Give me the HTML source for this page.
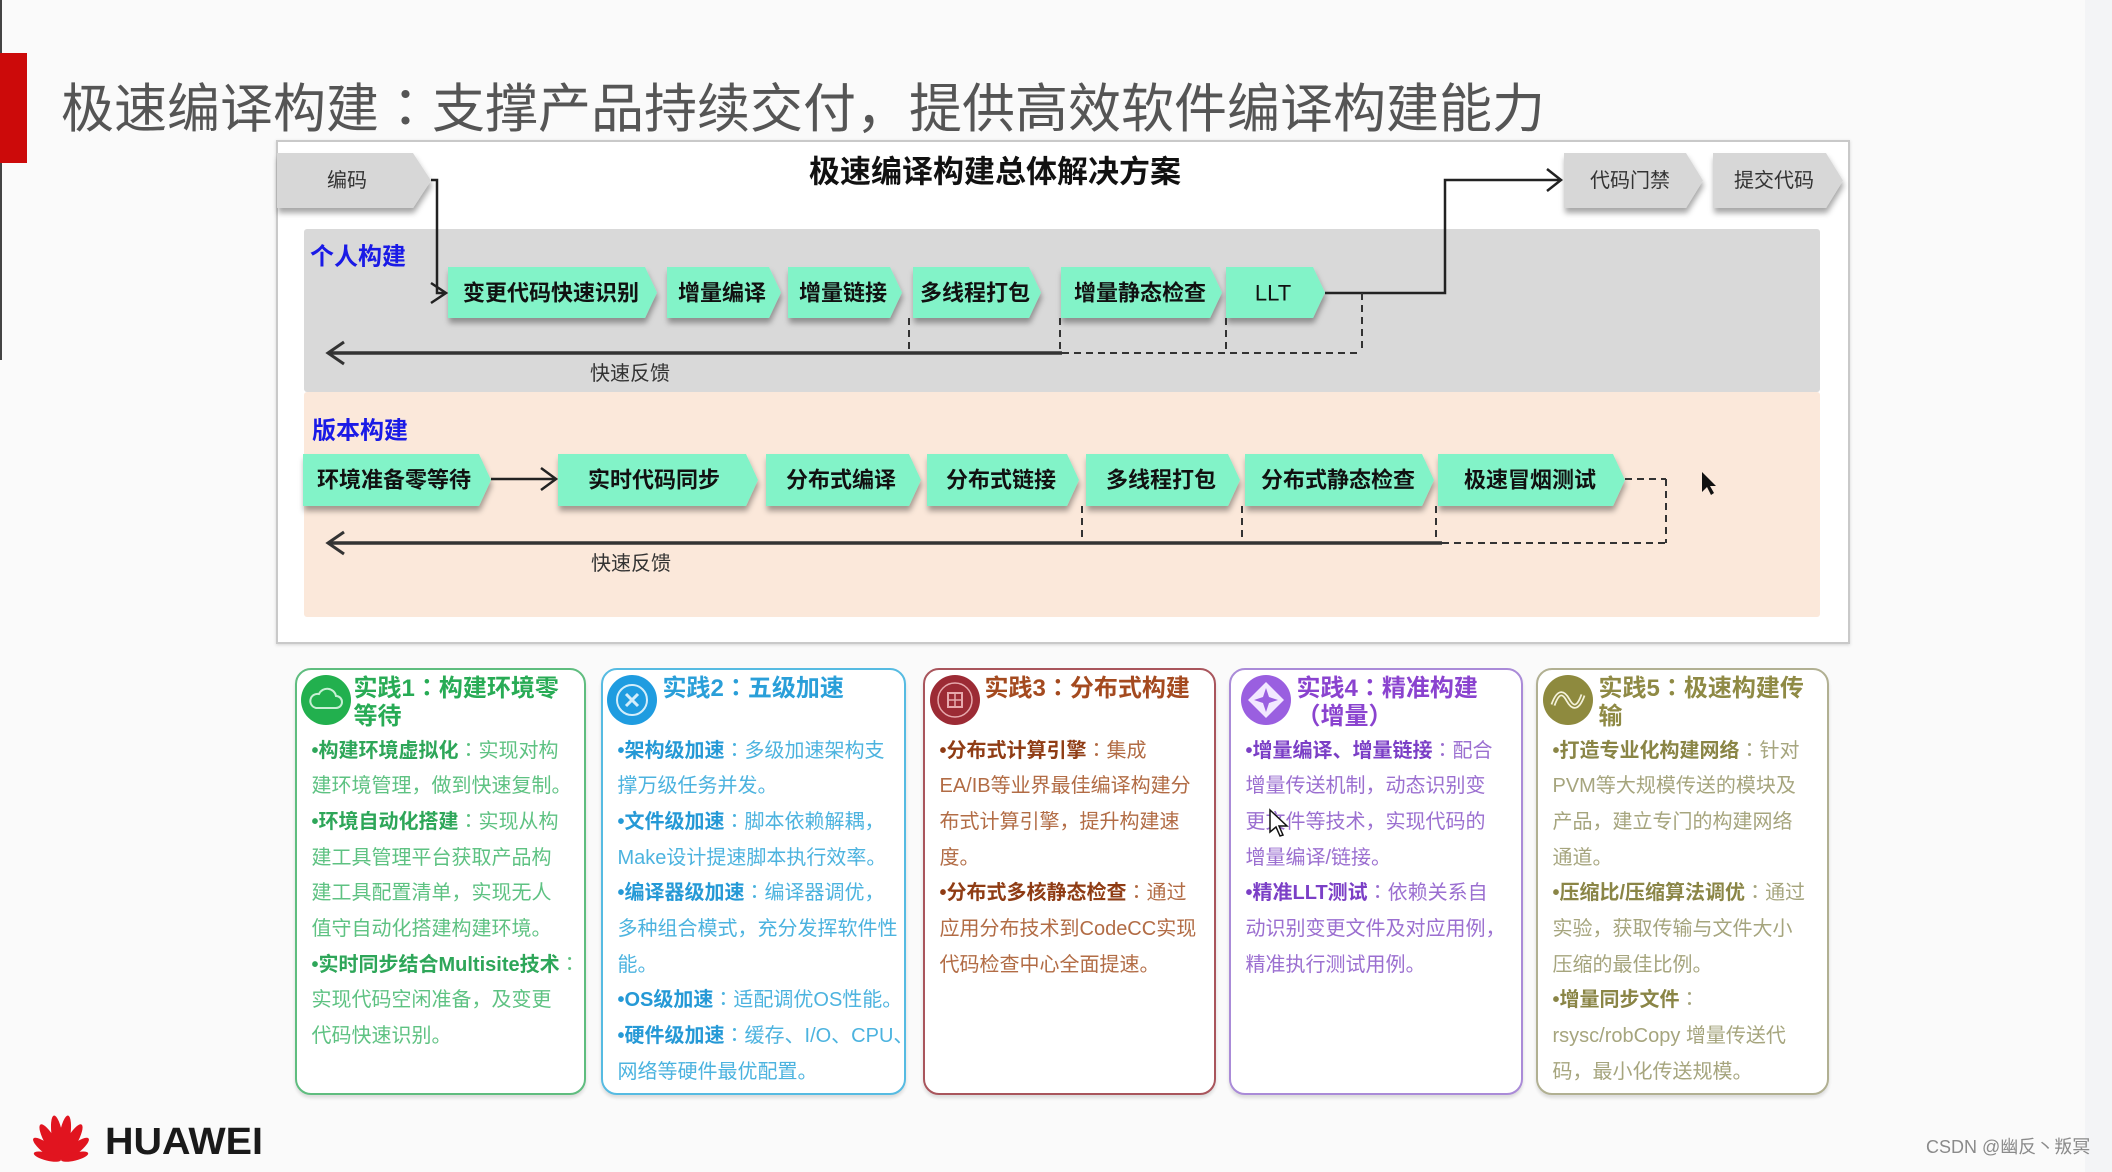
<!DOCTYPE html>
<html><head><meta charset="utf-8">
<style>
html,body{margin:0;padding:0;}
body{width:2112px;height:1172px;position:relative;overflow:hidden;background:#fafafa;font-family:"Liberation Sans","Noto Sans CJK SC",sans-serif;}
.abs{position:absolute;}
.title{position:absolute;left:61px;top:82px;font-size:53px;line-height:56px;color:#555;white-space:nowrap;font-family:"Liberation Sans","Noto Sans CJK SC",sans-serif;}
.c{font-family:"Noto Sans CJK JP","Noto Sans CJK SC",sans-serif;line-height:0;}
.card{position:absolute;top:668px;height:427px;border:2.5px solid #999;border-radius:16px;box-sizing:border-box;background:#fff;box-shadow:0 3px 3px rgba(0,0,0,.12);}
.card .ic{position:absolute;top:4.5px;width:50px;height:50px;border-radius:50%;}
.card .ic svg{position:absolute;left:0;top:0;}
.card .tt{position:absolute;top:4.5px;font-size:24px;line-height:28px;font-weight:bold;white-space:nowrap;}
.card .bd{position:absolute;left:14.5px;top:63.5px;font-size:20px;line-height:35.7px;white-space:nowrap;}
.card .bd b{font-weight:bold;}
</style></head>
<body>
<div class="abs" style="left:0;top:0;width:2px;height:360px;background:#444;"></div>
<div class="abs" style="left:0;top:53px;width:27px;height:110px;background:#cc0a0a;"></div>
<div class="abs" style="left:2085px;top:0;width:27px;height:1172px;background:#f3f4f6;"></div>

<div class="title">极速编译构建<span class="c">：</span>支撑产品持续交付，提供高效软件编译构建能力</div>

<svg class="abs" style="left:0;top:0" width="2112" height="1172" viewBox="0 0 2112 1172" xmlns="http://www.w3.org/2000/svg">
<defs>
<filter id="sh" x="-10%" y="-20%" width="130%" height="160%">
<feDropShadow dx="1" dy="5" stdDeviation="3" flood-color="#000" flood-opacity="0.35"/>
</filter>
<filter id="bs" x="-2%" y="-2%" width="104%" height="104%">
<feDropShadow dx="0" dy="1" stdDeviation="1.5" flood-color="#000" flood-opacity="0.15"/>
</filter>
</defs>
<rect x="277" y="141" width="1572" height="502" fill="#ffffff" stroke="#c9c9c9" stroke-width="2" filter="url(#bs)"/>
<rect x="304" y="229" width="1516" height="163" rx="3" fill="#d9d9d9"/>
<rect x="304" y="392" width="1516" height="225" rx="3" fill="#fbe8da"/>

<g font-family="'Liberation Sans','Noto Sans CJK SC',sans-serif">
<text x="995" y="172" font-size="31" font-weight="bold" fill="#111" text-anchor="middle" dominant-baseline="central">极速编译构建总体解决方案</text>

<g fill="#d7d7d7" filter="url(#sh)">
<polygon points="277,153 413,153 431,180.5 413,208 277,208"/>
<polygon points="1564,153 1686,153 1703,180.5 1686,208 1564,208"/>
<polygon points="1713,153 1826,153 1843,180.5 1826,208 1713,208"/>
</g>
<g font-size="20" fill="#333" text-anchor="middle" dominant-baseline="central">
<text x="347" y="181">编码</text>
<text x="1630" y="181">代码门禁</text>
<text x="1774" y="181">提交代码</text>
</g>

<text x="310" y="257" font-size="24" font-weight="bold" fill="#1a1ae6" dominant-baseline="central">个人构建</text>
<text x="312" y="431" font-size="24" font-weight="bold" fill="#1a1ae6" dominant-baseline="central">版本构建</text>

<g fill="#82f3c8" filter="url(#sh)">
<polygon points="448,267 645,267 657,292.5 645,318 448,318"/>
<polygon points="667,267 769,267 781,292.5 769,318 667,318"/>
<polygon points="788,267 890,267 902,292.5 890,318 788,318"/>
<polygon points="913,267 1029,267 1041,292.5 1029,318 913,318"/>
<polygon points="1061,267 1210,267 1222,292.5 1210,318 1061,318"/>
<polygon points="1226,267 1313,267 1325,292.5 1313,318 1226,318"/>
</g>
<g font-size="22" font-weight="bold" fill="#111" text-anchor="middle" dominant-baseline="central">
<text x="551" y="293">变更代码快速识别</text>
<text x="722" y="293">增量编译</text>
<text x="843" y="293">增量链接</text>
<text x="975" y="293">多线程打包</text>
<text x="1140" y="293">增量静态检查</text>
<text x="1273" y="293" font-weight="normal">LLT</text>
</g>

<g fill="#82f3c8" filter="url(#sh)">
<polygon points="303,454 479,454 491,480 479,506 303,506"/>
<polygon points="558,454 746,454 758,480 746,506 558,506"/>
<polygon points="766,454 909,454 921,480 909,506 766,506"/>
<polygon points="927,454 1067,454 1079,480 1067,506 927,506"/>
<polygon points="1086,454 1228,454 1240,480 1228,506 1086,506"/>
<polygon points="1245,454 1422,454 1434,480 1422,506 1245,506"/>
<polygon points="1438,454 1613,454 1625,480 1613,506 1438,506"/>
</g>
<g font-size="22" font-weight="bold" fill="#111" text-anchor="middle" dominant-baseline="central">
<text x="394" y="480">环境准备零等待</text>
<text x="654" y="480">实时代码同步</text>
<text x="841" y="480">分布式编译</text>
<text x="1001" y="480">分布式链接</text>
<text x="1161" y="480">多线程打包</text>
<text x="1338" y="480">分布式静态检查</text>
<text x="1530" y="480">极速冒烟测试</text>
</g>

<g fill="none" stroke="#222" stroke-width="2.5">
<polyline points="431,180 437,180 437,293 446,293"/>
<polyline points="431,283 446,293 431,303"/>
<polyline points="1325,293 1445,293 1445,180 1561,180"/>
<polyline points="1547,169 1561,180 1547,191"/>
<line x1="491" y1="479" x2="555" y2="479"/>
<polyline points="541,468 556,479 541,490"/>
</g>
<g fill="none" stroke="#333" stroke-width="3.5">
<line x1="329" y1="353" x2="1062" y2="353"/>
<polyline points="344,342 328,353 344,364" stroke-width="3"/>
<line x1="329" y1="543" x2="1442" y2="543"/>
<polyline points="344,532 328,543 344,554" stroke-width="3"/>
</g>
<g fill="none" stroke="#333" stroke-width="2" stroke-dasharray="7,5">
<line x1="909" y1="318" x2="909" y2="353"/>
<line x1="1060" y1="318" x2="1060" y2="353"/>
<line x1="1226" y1="318" x2="1226" y2="353"/>
<line x1="1362" y1="293" x2="1362" y2="353"/>
<line x1="1062" y1="353" x2="1362" y2="353"/>
<line x1="1082" y1="506" x2="1082" y2="543"/>
<line x1="1242" y1="506" x2="1242" y2="543"/>
<line x1="1436" y1="506" x2="1436" y2="543"/>
<line x1="1625" y1="479" x2="1666" y2="479"/>
<line x1="1666" y1="479" x2="1666" y2="543"/>
<line x1="1442" y1="543" x2="1666" y2="543"/>
</g>
<g font-size="20" fill="#333" text-anchor="middle" dominant-baseline="central">
<text x="630" y="374">快速反馈</text>
<text x="631" y="564">快速反馈</text>
</g>

<path d="M1702,472 L1702,492 L1707,487 L1711,495 L1714,493 L1710,486 L1716,486 Z" fill="#111"/>

<g fill="#e1141f">
<ellipse cx="61" cy="1137" rx="5.5" ry="22" transform="rotate(-9 61 1160)"/>
<ellipse cx="61" cy="1137" rx="5.5" ry="22" transform="rotate(9 61 1160)"/>
<ellipse cx="61" cy="1139" rx="5.5" ry="20" transform="rotate(-30 61 1160)"/>
<ellipse cx="61" cy="1139" rx="5.5" ry="20" transform="rotate(30 61 1160)"/>
<ellipse cx="61" cy="1142" rx="5" ry="17" transform="rotate(-52 61 1160)"/>
<ellipse cx="61" cy="1142" rx="5" ry="17" transform="rotate(52 61 1160)"/>
<ellipse cx="61" cy="1146" rx="4" ry="14" transform="rotate(-76 61 1160)"/>
<ellipse cx="61" cy="1146" rx="4" ry="14" transform="rotate(76 61 1160)"/>
</g>
<text x="105" y="1154" font-size="38" font-weight="bold" fill="#1a1a1a" font-family="'Liberation Sans',sans-serif" textLength="158" lengthAdjust="spacingAndGlyphs">HUAWEI</text>
<text x="1926" y="1153" font-size="18" fill="#8a8a8a">CSDN @幽反丶叛冥</text>
</g>
</svg>

<div class="card" style="left:295px;width:291px;border-color:#5fbd7f;">
  <div class="ic" style="left:3.5px;background:#22b04e;">
    <svg width="50" height="50" viewBox="0 0 50 50"><path d="M15,33 H35 A6,6 0 0 0 35,21 A9,9 0 0 0 18,19 A7,7 0 0 0 15,33 Z" fill="none" stroke="#c8f0d4" stroke-width="2"/></svg>
  </div>
  <div class="tt" style="left:56.5px;color:#28ab55;">实践1<span class="c">：</span>构建环境零<br>等待</div>
  <div class="bd" style="color:#5ec282;"><b style="color:#2ea659;">•构建环境虚拟化</b><span class="c">：</span>实现对构<br>建环境管理，做到快速复制。<br><b style="color:#2ea659;">•环境自动化搭建</b><span class="c">：</span>实现从构<br>建工具管理平台获取产品构<br>建工具配置清单，实现无人<br>值守自动化搭建构建环境。<br><b style="color:#2ea659;">•实时同步结合Multisite技术</b><span class="c">：</span><br>实现代码空闲准备，及变更<br>代码快速识别。</div>
</div>

<div class="card" style="left:601px;width:305px;border-color:#56bbe2;">
  <div class="ic" style="left:3.5px;background:#1f9ce0;">
    <svg width="50" height="50" viewBox="0 0 50 50"><circle cx="25" cy="25" r="15" fill="none" stroke="#d4eefb" stroke-width="2"/><path d="M19,19 L31,31 M31,19 L19,31" stroke="#d4eefb" stroke-width="3"/></svg>
  </div>
  <div class="tt" style="left:59.5px;color:#2a9fd9;">实践2<span class="c">：</span>五级加速</div>
  <div class="bd" style="color:#4cb3df;"><b style="color:#2599d6;">•架构级加速</b><span class="c">：</span>多级加速架构支<br>撑万级任务并发。<br><b style="color:#2599d6;">•文件级加速</b><span class="c">：</span>脚本依赖解耦，<br>Make设计提速脚本执行效率。<br><b style="color:#2599d6;">•编译器级加速</b><span class="c">：</span>编译器调优，<br>多种组合模式，充分发挥软件性<br>能。<br><b style="color:#2599d6;">•OS级加速</b><span class="c">：</span>适配调优OS性能。<br><b style="color:#2599d6;">•硬件级加速</b><span class="c">：</span>缓存、I/O、CPU、<br>网络等硬件最优配置。</div>
</div>

<div class="card" style="left:923px;width:293px;border-color:#a9555c;">
  <div class="ic" style="left:4.5px;background:#9c2b35;">
    <svg width="50" height="50" viewBox="0 0 50 50"><circle cx="25" cy="25" r="17" fill="none" stroke="#e7a9ad" stroke-width="1.5"/><rect x="18" y="18" width="14" height="14" fill="none" stroke="#e7a9ad" stroke-width="2"/><path d="M25,18 V32 M18,25 H32" stroke="#e7a9ad" stroke-width="1.5"/></svg>
  </div>
  <div class="tt" style="left:59.5px;color:#a44a1f;">实践3<span class="c">：</span>分布式构建</div>
  <div class="bd" style="color:#b26c45;"><b style="color:#8f3c14;">•分布式计算引擎</b><span class="c">：</span>集成<br>EA/IB等业界最佳编译构建分<br>布式计算引擎，提升构建速<br>度。<br><b style="color:#8f3c14;">•分布式多核静态检查</b><span class="c">：</span>通过<br>应用分布技术到CodeCC实现<br>代码检查中心全面提速。</div>
</div>

<div class="card" style="left:1229px;width:294px;border-color:#aa8bd8;">
  <div class="ic" style="left:9.5px;background:#9a5fe0;">
    <svg width="50" height="50" viewBox="0 0 50 50"><path d="M25,7 L43,25 L25,43 L7,25 Z" fill="#f2e8ff"/><path d="M25,13 L28,22 L37,25 L28,28 L25,37 L22,28 L13,25 L22,22 Z" fill="#9a5fe0"/></svg>
  </div>
  <div class="tt" style="left:65.5px;color:#8a43cf;">实践4<span class="c">：</span>精准构建<br>（增量）</div>
  <div class="bd" style="color:#9b6fd0;"><b style="color:#7b3fc6;">•增量编译、增量链接</b><span class="c">：</span>配合<br>增量传送机制，动态识别变<br>更文件等技术，实现代码的<br>增量编译/链接。<br><b style="color:#7b3fc6;">•精准LLT测试</b><span class="c">：</span>依赖关系自<br>动识别变更文件及对应用例，<br>精准执行测试用例。</div>
</div>

<div class="card" style="left:1536px;width:293px;border-color:#b1b092;">
  <div class="ic" style="left:4.5px;background:#8e8a3e;">
    <svg width="50" height="50" viewBox="0 0 50 50"><path d="M10,30 C15,16 20,16 25,25 S35,34 40,20" fill="none" stroke="#f3f0d8" stroke-width="5"/><path d="M10,30 C15,16 20,16 25,25 S35,34 40,20" fill="none" stroke="#8e8a3e" stroke-width="1.5"/></svg>
  </div>
  <div class="tt" style="left:60.5px;color:#8f8a45;">实践5<span class="c">：</span>极速构建传<br>输</div>
  <div class="bd" style="color:#a6a57e;"><b style="color:#8a8546;">•打造专业化构建网络</b><span class="c">：</span>针对<br>PVM等大规模传送的模块及<br>产品，建立专门的构建网络<br>通道。<br><b style="color:#8a8546;">•压缩比/压缩算法调优</b><span class="c">：</span>通过<br>实验，获取传输与文件大小<br>压缩的最佳比例。<br><b style="color:#8a8546;">•增量同步文件</b><span class="c">：</span><br>rsysc/robCopy 增量传送代<br>码，最小化传送规模。</div>
</div>

<svg class="abs" style="left:1268px;top:808px" width="24" height="32" viewBox="0 0 24 32"><path d="M2,2 L2,24 L8,19 L12,28 L15,27 L11,18 L19,18 Z" fill="#fff" stroke="#111" stroke-width="1.5"/></svg>
</body></html>
